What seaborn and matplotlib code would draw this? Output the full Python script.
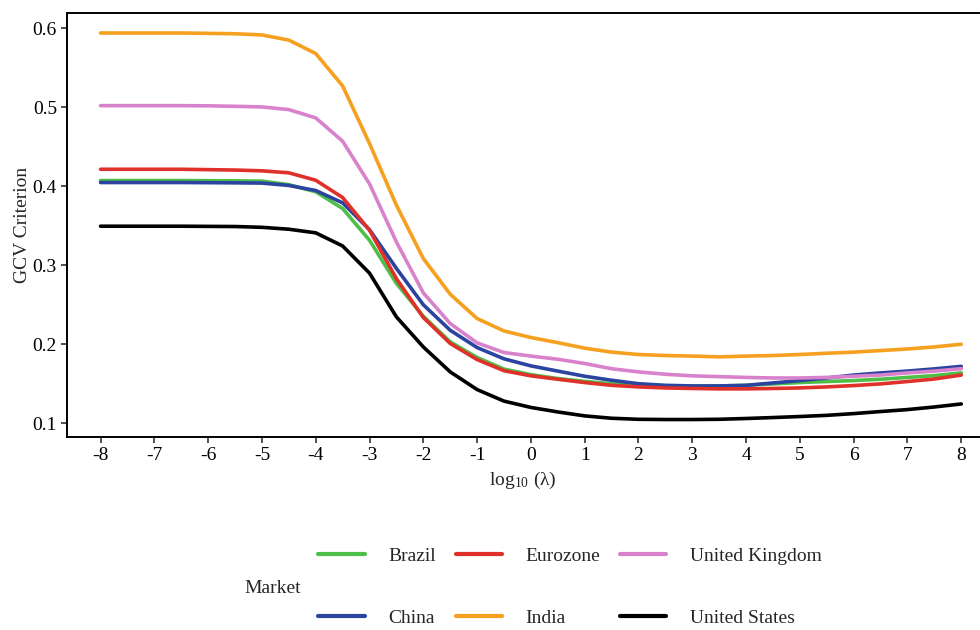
import numpy as np
import pandas as pd
import matplotlib
matplotlib.use("Agg")
import matplotlib.pyplot as plt
import seaborn as sns

log_lambda = [-8, -7.5, -7, -6.5, -6, -5.5, -5, -4.5, -4, -3.5, -3, -2.5, -2, -1.5, -1, -0.5,
              0, 0.5, 1, 1.5, 2, 2.5, 3, 3.5, 4, 4.5, 5, 5.5, 6, 6.5, 7, 7.5, 8]

brazil = [0.4072, 0.4072, 0.4072, 0.4072, 0.4070, 0.4068, 0.4065, 0.4020, 0.3930, 0.3718, 0.3316,
          0.2770, 0.2354, 0.2030, 0.1832, 0.1685, 0.1615, 0.1566, 0.1530, 0.1500, 0.1480, 0.1472,
          0.1470, 0.1472, 0.1480, 0.1498, 0.1515, 0.1528, 0.1540, 0.1557, 0.1580, 0.1603, 0.1637]
china = [0.4047, 0.4047, 0.4047, 0.4047, 0.4045, 0.4043, 0.4040, 0.4010, 0.3946, 0.3790, 0.3450,
         0.2960, 0.2500, 0.2177, 0.1958, 0.1815, 0.1726, 0.1660, 0.1595, 0.1544, 0.1500, 0.1480,
         0.1472, 0.1472, 0.1480, 0.1510, 0.1540, 0.1573, 0.1610, 0.1637, 0.1660, 0.1688, 0.1720]
eurozone = [0.4215, 0.4215, 0.4215, 0.4215, 0.4210, 0.4205, 0.4195, 0.4170, 0.4076, 0.3857, 0.3443,
            0.2830, 0.2338, 0.2010, 0.1806, 0.1665, 0.1600, 0.1557, 0.1515, 0.1480, 0.1460, 0.1447,
            0.1440, 0.1435, 0.1435, 0.1440, 0.1447, 0.1460, 0.1477, 0.1498, 0.1528, 0.1560, 0.1610]
india = [0.5940, 0.5940, 0.5940, 0.5940, 0.5935, 0.5930, 0.5915, 0.5850, 0.5680, 0.5270, 0.4540,
         0.3760, 0.3085, 0.2633, 0.2325, 0.2168, 0.2085, 0.2020, 0.1950, 0.1900, 0.1870, 0.1857,
         0.1850, 0.1840, 0.1850, 0.1857, 0.1870, 0.1886, 0.1900, 0.1920, 0.1940, 0.1966, 0.2000]
united_kingdom = [0.5020, 0.5020, 0.5020, 0.5020, 0.5018, 0.5012, 0.5004, 0.4970, 0.4865, 0.4570, 0.4030,
                  0.3295, 0.2650, 0.2262, 0.2017, 0.1895, 0.1850, 0.1810, 0.1756, 0.1690, 0.1650, 0.1620,
                  0.1600, 0.1590, 0.1580, 0.1573, 0.1573, 0.1580, 0.1595, 0.1610, 0.1637, 0.1660, 0.1690]
united_states = [0.3494, 0.3494, 0.3494, 0.3494, 0.3492, 0.3490, 0.3480, 0.3456, 0.3410, 0.3244, 0.2900,
                 0.2346, 0.1966, 0.1650, 0.1426, 0.1280, 0.1200, 0.1143, 0.1093, 0.1063, 0.1050, 0.1047,
                 0.1047, 0.1050, 0.1060, 0.1072, 0.1085, 0.1100, 0.1122, 0.1148, 0.1173, 0.1206, 0.1244]

markets = ["Brazil", "China", "Eurozone", "India", "United Kingdom", "United States"]
series = [brazil, china, eurozone, india, united_kingdom, united_states]
colors = ["#4DBE48", "#2B44A0", "#E0302A", "#F5A01E", "#D982CC", "#000000"]

x_ticks = list(range(-8, 9))
y_ticks = [0.1, 0.2, 0.3, 0.4, 0.5, 0.6]

df = pd.DataFrame({
    "log_lambda": np.tile(log_lambda, len(markets)),
    "GCV": np.concatenate(series),
    "Market": np.repeat(markets, len(log_lambda)),
})

sns.set_theme(style="white")
plt.rcParams["font.family"] = ["Liberation Serif", "DejaVu Serif"]
plt.rcParams["mathtext.fontset"] = "custom"
plt.rcParams["mathtext.rm"] = "Liberation Serif"
plt.rcParams["mathtext.it"] = "Liberation Serif:italic"

fig = plt.figure(figsize=(9.8, 6.3), dpi=100)
ax = fig.add_axes([0.068, 0.306, 0.931, 0.673])

sns.lineplot(data=df, x="log_lambda", y="GCV", hue="Market", hue_order=markets,
             palette=dict(zip(markets, colors)), linewidth=2.6, ax=ax, legend=True)

ax.set_xlim(-8.63, 8.33)
ax.set_ylim(0.0823, 0.619)
ax.set_xticks(x_ticks)
ax.set_xticklabels([str(t) for t in x_ticks])
ax.set_yticks(y_ticks)
ax.set_yticklabels([f"{t:.1f}" for t in y_ticks])
ax.tick_params(axis="both", direction="out", length=4, width=1.2, color="#333333",
               labelsize=14, labelcolor="black", pad=3, bottom=True, left=True)
ax.set_xlabel(r"log$_{10}$ (λ)", fontsize=14, labelpad=4)
ax.set_ylabel("GCV Criterion", fontsize=14, labelpad=1)
for side in ["left", "bottom", "top"]:
    ax.spines[side].set_visible(True)
    ax.spines[side].set_color("black")
    ax.spines[side].set_linewidth(1.4)
ax.spines["right"].set_visible(False)

handles, labels = ax.get_legend_handles_labels()
ax.get_legend().remove()
leg = fig.legend(handles, labels, ncol=3, loc="center left", bbox_to_anchor=(0.321, 0.068),
                 frameon=False, fontsize=14, handlelength=2.4, handletextpad=1.2,
                 columnspacing=1.0, labelspacing=2.3, borderaxespad=0, borderpad=0.2)
for h in leg.get_lines():
    h.set_linewidth(3)
fig.text(0.249, 0.066, "Market", fontsize=14, ha="left", va="center")

fig.savefig("out.png", dpi=100)
